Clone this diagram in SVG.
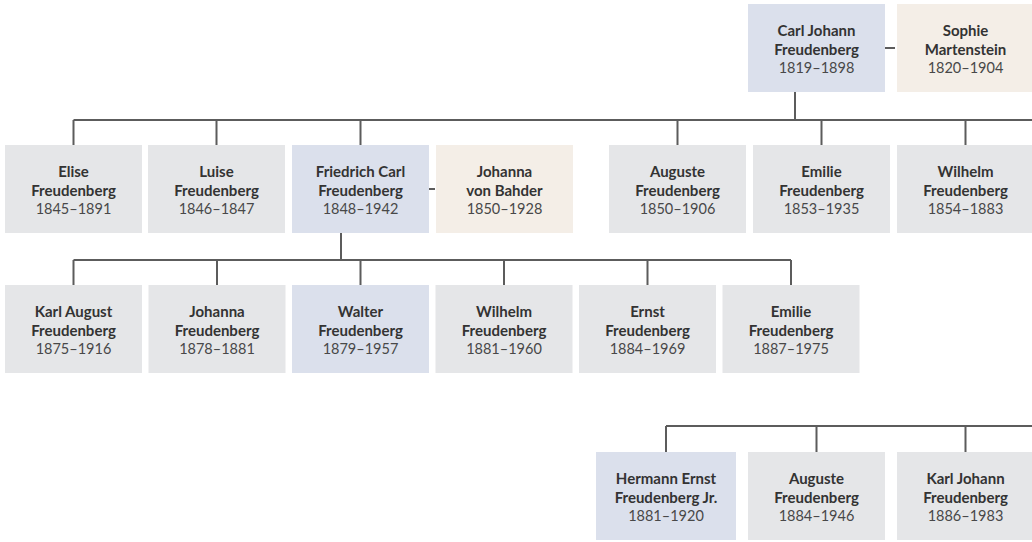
<svg xmlns="http://www.w3.org/2000/svg" width="1032" height="542" viewBox="0 0 1032 542">
<style>
.box{stroke:none}
.g{fill:#e5e6e8}
.b{fill:#dbe0ec}
.w{fill:#f4eee7}
.n{font-family:Lato,"Noto Sans",sans-serif;font-weight:700;font-size:15px;fill:#333;text-anchor:middle}
.y{font-family:Lato,"Noto Sans",sans-serif;font-weight:400;font-size:14.5px;fill:#484848;text-anchor:middle}
.c{stroke:#5c5c5c;stroke-width:2;fill:none}
</style>
<rect width="1032" height="542" fill="#fff"/>
<g id="connectors">
<path class="c" d="M795 92V120M73.5 120H1032M73.5 120V145M216.5 120V145M360.5 120V145M677.5 120V145M821.5 120V145M965.5 120V145"/>
<path class="c" d="M885 48H895M429 189H435"/>
<path class="c" d="M341 233V260M73.5 260H791M73.5 260V285M217 260V285M360.5 260V285M504 260V285M647.5 260V285M791 260V285"/>
<path class="c" d="M666 426H1032M666 426V452M816.5 426V452M965.5 426V452"/>
</g>
<g id="carl-johann"><rect class="box b" x="748" y="4" width="137" height="88"/><text class="n" x="816.5" y="36">Carl Johann</text><text class="n" x="816.5" y="55">Freudenberg</text><text class="y" x="816.5" y="73">1819–1898</text></g>
<g id="sophie"><rect class="box w" x="897" y="4" width="137" height="88"/><text class="n" x="965.5" y="36">Sophie</text><text class="n" x="965.5" y="55">Martenstein</text><text class="y" x="965.5" y="73">1820–1904</text></g>

<g id="elise"><rect class="box g" x="5" y="145" width="137" height="88"/><text class="n" x="73.5" y="177">Elise</text><text class="n" x="73.5" y="196">Freudenberg</text><text class="y" x="73.5" y="214">1845–1891</text></g>
<g id="luise"><rect class="box g" x="148" y="145" width="137" height="88"/><text class="n" x="216.5" y="177">Luise</text><text class="n" x="216.5" y="196">Freudenberg</text><text class="y" x="216.5" y="214">1846–1847</text></g>
<g id="friedrich-carl"><rect class="box b" x="292" y="145" width="137" height="88"/><text class="n" x="360.5" y="177">Friedrich Carl</text><text class="n" x="360.5" y="196">Freudenberg</text><text class="y" x="360.5" y="214">1848–1942</text></g>
<g id="johanna-bahder"><rect class="box w" x="436" y="145" width="137" height="88"/><text class="n" x="504.5" y="177">Johanna</text><text class="n" x="504.5" y="196">von Bahder</text><text class="y" x="504.5" y="214">1850–1928</text></g>
<g id="auguste-1"><rect class="box g" x="609" y="145" width="137" height="88"/><text class="n" x="677.5" y="177">Auguste</text><text class="n" x="677.5" y="196">Freudenberg</text><text class="y" x="677.5" y="214">1850–1906</text></g>
<g id="emilie-1"><rect class="box g" x="753" y="145" width="137" height="88"/><text class="n" x="821.5" y="177">Emilie</text><text class="n" x="821.5" y="196">Freudenberg</text><text class="y" x="821.5" y="214">1853–1935</text></g>
<g id="wilhelm-1"><rect class="box g" x="897" y="145" width="137" height="88"/><text class="n" x="965.5" y="177">Wilhelm</text><text class="n" x="965.5" y="196">Freudenberg</text><text class="y" x="965.5" y="214">1854–1883</text></g>

<g id="karl-august"><rect class="box g" x="5" y="285" width="137" height="88"/><text class="n" x="73.5" y="317">Karl August</text><text class="n" x="73.5" y="336">Freudenberg</text><text class="y" x="73.5" y="354">1875–1916</text></g>
<g id="johanna-2"><rect class="box g" x="148.5" y="285" width="137" height="88"/><text class="n" x="217" y="317">Johanna</text><text class="n" x="217" y="336">Freudenberg</text><text class="y" x="217" y="354">1878–1881</text></g>
<g id="walter"><rect class="box b" x="292" y="285" width="137" height="88"/><text class="n" x="360.5" y="317">Walter</text><text class="n" x="360.5" y="336">Freudenberg</text><text class="y" x="360.5" y="354">1879–1957</text></g>
<g id="wilhelm-2"><rect class="box g" x="435.5" y="285" width="137" height="88"/><text class="n" x="504" y="317">Wilhelm</text><text class="n" x="504" y="336">Freudenberg</text><text class="y" x="504" y="354">1881–1960</text></g>
<g id="ernst"><rect class="box g" x="579" y="285" width="137" height="88"/><text class="n" x="647.5" y="317">Ernst</text><text class="n" x="647.5" y="336">Freudenberg</text><text class="y" x="647.5" y="354">1884–1969</text></g>
<g id="emilie-2"><rect class="box g" x="722.5" y="285" width="137" height="88"/><text class="n" x="791" y="317">Emilie</text><text class="n" x="791" y="336">Freudenberg</text><text class="y" x="791" y="354">1887–1975</text></g>

<g id="hermann-ernst"><rect class="box b" x="596" y="452" width="140" height="88"/><text class="n" x="666" y="484">Hermann Ernst</text><text class="n" x="666" y="503">Freudenberg Jr.</text><text class="y" x="666" y="521">1881–1920</text></g>
<g id="auguste-2"><rect class="box g" x="748" y="452" width="137" height="88"/><text class="n" x="816.5" y="484">Auguste</text><text class="n" x="816.5" y="503">Freudenberg</text><text class="y" x="816.5" y="521">1884–1946</text></g>
<g id="karl-johann-2"><rect class="box g" x="897" y="452" width="137" height="88"/><text class="n" x="965.5" y="484">Karl Johann</text><text class="n" x="965.5" y="503">Freudenberg</text><text class="y" x="965.5" y="521">1886–1983</text></g>
</svg>
